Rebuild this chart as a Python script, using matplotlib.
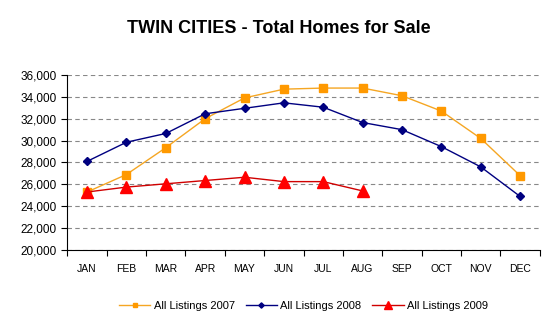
import numpy as np
import matplotlib
matplotlib.use("Agg")
import matplotlib.pyplot as plt

plt.rcParams["font.family"] = ["Liberation Sans", "DejaVu Sans"]

MONTHS = ["JAN", "FEB", "MAR", "APR", "MAY", "JUN",
          "JUL", "AUG", "SEP", "OCT", "NOV", "DEC"]
LIST_2007 = [25300, 26900, 29350, 32000, 33900, 34700,
             34800, 34800, 34100, 32700, 30200, 26800]
LIST_2008 = [28100, 29850, 30650, 32450, 32950, 33450,
             33050, 31650, 31000, 29450, 27600, 24900]
LIST_2009 = [25300, 25750, 26050, 26350, 26650, 26250, 26250, 25400]

fig = plt.figure(figsize=(5.57, 3.23), dpi=100, facecolor="white")
ax = fig.add_axes([0.121, 0.226, 0.848, 0.542])

x = np.arange(len(MONTHS))
ax.plot(x, LIST_2007, color="#F5A623", lw=1.0, marker="s", ms=5.5,
        mfc="#FF9900", mec="#FF9900", label="All Listings 2007", zorder=3)
ax.plot(x, LIST_2008, color="#000080", lw=1.0, marker="D", ms=4.5,
        mfc="#000080", mec="#000080", label="All Listings 2008", zorder=4)
ax.plot(x[:len(LIST_2009)], LIST_2009, color="#D00000", lw=1.0, marker="^",
        ms=9, mfc="#FF0000", mec="#FF0000", label="All Listings 2009", zorder=5)

ax.set_xlim(-0.5, len(MONTHS) - 0.5)
ax.set_ylim(20000, 36000)
ax.set_yticks(range(20000, 36001, 2000))
ax.set_yticklabels([f"{v:,}" for v in range(20000, 36001, 2000)])
ax.set_xticks(x)
ax.set_xticklabels(MONTHS)
ax.set_xticks(np.arange(-0.5, len(MONTHS)), minor=True)
ax.tick_params(axis="x", which="major", length=0, pad=10, labelsize=7.5)
ax.tick_params(axis="x", which="minor", length=4, width=0.8, direction="out")
ax.tick_params(axis="y", length=4, width=0.8, labelsize=8.5)

ax.yaxis.grid(True, color="#888888", ls=(0, (4, 3)), lw=0.8)
ax.set_axisbelow(True)
for side in ["top", "right"]:
    ax.spines[side].set_visible(False)
for side in ["left", "bottom"]:
    ax.spines[side].set_color("black")
    ax.spines[side].set_linewidth(0.8)

fig.text(0.5, 0.913, "TWIN CITIES - Total Homes for Sale", ha="center",
         va="center", fontsize=13, fontweight="bold")

ax.legend(loc="center", bbox_to_anchor=(0.5, -0.32), ncol=3, frameon=False,
          fontsize=8, handlelength=2.8, handletextpad=0.3, columnspacing=1.0,
          markerscale=0.6)

fig.savefig("out.png", dpi=100, facecolor="white")
